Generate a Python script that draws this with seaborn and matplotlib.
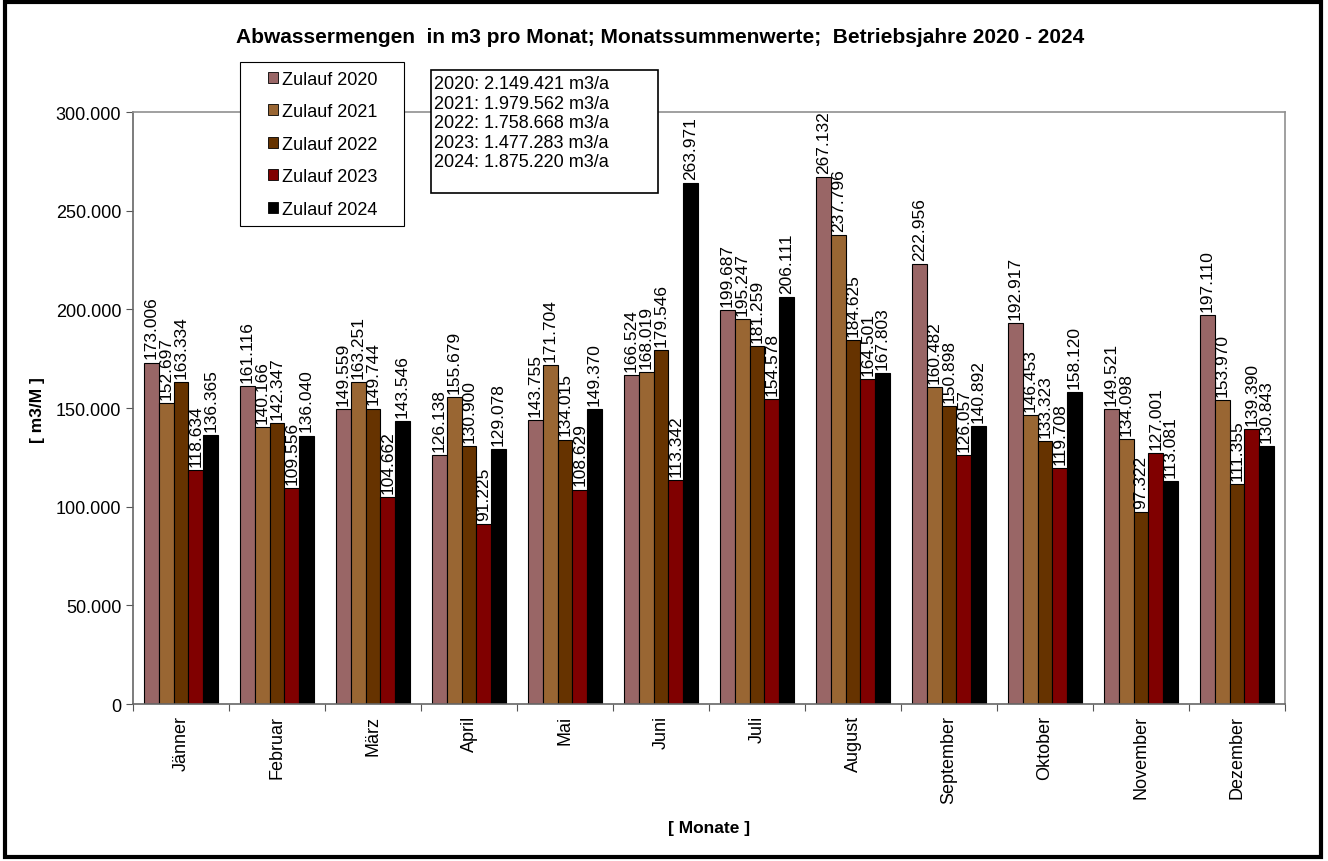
import seaborn as sns
from matplotlib import pyplot as plt
from matplotlib.patches import Rectangle
from matplotlib.ticker import FuncFormatter, MultipleLocator, FixedLocator
import pandas as pd

months = ["Jänner", "Februar", "März", "April", "Mai", "Juni", "Juli",
          "August", "September", "Oktober", "November", "Dezember"]
years = ["Zulauf 2020", "Zulauf 2021", "Zulauf 2022", "Zulauf 2023", "Zulauf 2024"]

z2020 = [173006, 161116, 149559, 126138, 143755, 166524, 199687, 267132, 222956, 192917, 149521, 197110]
z2021 = [152697, 140166, 163251, 155679, 171704, 168019, 195247, 237796, 160482, 146453, 134098, 153970]
z2022 = [163334, 142347, 149744, 130900, 134015, 179546, 181259, 184625, 150898, 133323, 97322, 111355]
z2023 = [118634, 109556, 104662, 91225, 108629, 113342, 154578, 164501, 126057, 119708, 127001, 139390]
z2024 = [136365, 136040, 143546, 129078, 149370, 263971, 206111, 167803, 140892, 158120, 113081, 130843]

summen = ["2020: 2.149.421 m3/a", "2021: 1.979.562 m3/a", "2022: 1.758.668 m3/a",
          "2023: 1.477.283 m3/a", "2024: 1.875.220 m3/a"]

colors = ["#996666", "#996633", "#663300", "#800000", "#000000"]

rows = []
for name, vals in zip(years, [z2020, z2021, z2022, z2023, z2024]):
    for m, v in zip(months, vals):
        rows.append({"Monat": m, "Jahr": name, "Wert": v})
df = pd.DataFrame(rows)

sns.set_style("white", {"text.color": "black", "xtick.color": "black",
                        "ytick.color": "black", "axes.labelcolor": "black"})
plt.rcParams['font.family'] = ['Liberation Sans', 'DejaVu Sans']


def de_fmt(v):
    return f"{v:,.0f}".replace(",", ".")


W, H = 1328, 862
fig = plt.figure(figsize=(W / 100, H / 100), dpi=100)
ax = fig.add_axes([0.1002, 0.1821, 0.8674, 0.6868])

sns.barplot(data=df, x="Monat", y="Wert", hue="Jahr", order=months, hue_order=years,
            palette=colors, width=0.77, edgecolor="black", linewidth=0.8,
            saturation=1, ax=ax, legend=True)

# Werte über den Balken
for cont in ax.containers:
    ax.bar_label(cont, labels=[de_fmt(b.get_height()) for b in cont],
                 rotation=90, padding=3, fontsize=12.5)

ax.set_ylim(0, 300000)
ax.set_xlim(-0.5, len(months) - 0.5)
ax.yaxis.set_major_locator(MultipleLocator(50000))
ax.yaxis.set_major_formatter(FuncFormatter(lambda v, p: de_fmt(v)))
ax.tick_params(axis="y", labelsize=13, length=5, width=0.8, color="#555555", direction="out", left=True)
ax.tick_params(axis="x", which="major", labelsize=13, length=0, rotation=90, pad=8)
ax.xaxis.set_minor_locator(FixedLocator([i - 0.5 for i in range(len(months) + 1)]))
ax.tick_params(axis="x", which="minor", length=5, width=0.8, color="#555555", bottom=True, direction="out")

for s in ["top", "right"]:
    ax.spines[s].set_color("#909090")
    ax.spines[s].set_linewidth(1.2)
for s in ["left", "bottom"]:
    ax.spines[s].set_color("#666666")
    ax.spines[s].set_linewidth(1.2)

ax.set_xlabel("")
ax.set_ylabel("")
fig.text(0.028, 0.524, "[ m3/M ]", rotation=90, fontsize=12.5, fontweight="bold", va="center", ha="center")
fig.text(0.534, 0.039, "[ Monate ]", fontsize=12.5, fontweight="bold", va="center", ha="center")
fig.text(0.497, 0.957, "Abwassermengen  in m3 pro Monat; Monatssummenwerte;  Betriebsjahre 2020 - 2024",
         fontsize=15, fontweight="bold", va="center", ha="center")

# Legende (Rahmen separat, wie in Excel)
handles, labels = ax.get_legend_handles_labels()
ax.get_legend().remove()
fig.add_artist(Rectangle((240 / W, 1 - 227 / H), 164 / W, 164 / H, transform=fig.transFigure,
                         facecolor="white", edgecolor="black", linewidth=0.8, zorder=4))
leg = fig.legend(handles, labels, loc="upper left", bbox_to_anchor=(264 / W, 1 - 68 / H),
                 fontsize=13, frameon=False,
                 handlelength=0.55, handleheight=0.55, handletextpad=0.25,
                 labelspacing=0.86, borderpad=0.2, borderaxespad=0)
leg.set_zorder(5)
for h in leg.legend_handles:
    h.set_edgecolor("black")
    h.set_linewidth(0.6)

# Box mit Jahressummen
fig.add_artist(Rectangle((431 / W, 1 - 194 / H), 227 / W, 123 / H, transform=fig.transFigure,
                         facecolor="white", edgecolor="black", linewidth=1.2, zorder=4))
fig.text(434 / W, 1 - 76 / H, "\n".join(summen), fontsize=13, va="top", ha="left",
         linespacing=1.2, zorder=5)

# Rahmen um die ganze Grafik
fig.add_artist(Rectangle((0.004, 0.005), 0.991, 0.991, transform=fig.transFigure,
                         fill=False, edgecolor="black", linewidth=3))

fig.savefig("out.png", dpi=100)
